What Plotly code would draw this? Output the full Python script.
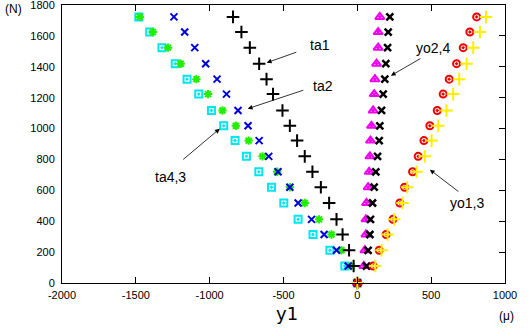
import plotly.graph_objects as go

# Load levels (N)
loads = [0, 110, 212, 314, 412, 518, 620, 720, 820, 922, 1018, 1117, 1223, 1320, 1420, 1524, 1625, 1723]

# Strain values (micro) per gauge, bottom to top
ta1 = [0, -25, -56, -100, -141, -191, -247, -304, -356, -408, -457, -507, -571, -615, -665, -728, -785, -842]
ta2 = [0, -62, -141, -225, -310, -401, -457, -537, -600, -665, -740, -808, -886, -950, -1027, -1101, -1169, -1242]
ta3 = [0, -40, -107, -175, -259, -356, -457, -543, -642, -736, -823, -913, -1011, -1090, -1196, -1282, -1384, -1474]
ta4 = [0, -85, -186, -300, -401, -498, -581, -667, -751, -828, -905, -988, -1074, -1153, -1233, -1323, -1406, -1480]
yo2 = [0, 44, 51, 58, 58, 62, 73, 80, 85, 89, 96, 107, 114, 119, 130, 141, 141, 152]
yo4 = [0, 62, 73, 85, 89, 103, 114, 125, 137, 148, 152, 164, 175, 186, 193, 205, 209, 220]
yo1 = [0, 107, 148, 195, 241, 288, 320, 374, 412, 451, 491, 541, 581, 622, 672, 717, 762, 808]
yo3 = [0, 122, 164, 205, 250, 306, 338, 401, 457, 503, 548, 604, 649, 690, 740, 785, 830, 871]

series = [
    ("ta4", ta4, "#00e5ee", "square-open-dot", 7, 2),
    ("ta3", ta3, "#22ee00", "asterisk-open", 7, 2),
    ("ta2", ta2, "#0000dd", "x-thin-open", 7, 2),
    ("ta1", ta1, "#000000", "cross-thin-open", 9, 2),
    ("yo2", yo2, "#ee00ee", "triangle-up-open-dot", 8, 2),
    ("yo4", yo4, "#000000", "x-thin-open", 7, 2.5),
    ("yo1", yo1, "#ee0000", "circle-open-dot", 7, 2),
    ("yo3", yo3, "#ffee00", "cross-thin-open", 9, 2),
]

fig = go.Figure()
for name, xs, col, sym, sz, lw in series:
    fig.add_trace(go.Scatter(
        x=xs, y=loads, mode="markers", name=name,
        marker=dict(symbol=sym, color=col, size=sz, line=dict(width=lw, color=col)),
        cliponaxis=False, showlegend=False,
    ))
# dummy trace for right axis ticks
fig.add_trace(go.Scatter(x=[None], y=[None], yaxis="y2", showlegend=False))

tickfont = dict(family="Liberation Sans", size=11, color="black")
xt = [-2000, -1500, -1000, -500, 0, 500, 1000]
yt = list(range(0, 1801, 200))

fig.update_layout(
    width=532, height=329,
    margin=dict(l=62, r=27, t=5, b=46, autoexpand=False),
    plot_bgcolor="white", paper_bgcolor="white",
    xaxis=dict(range=[-2000, 1000], tickvals=xt, ticktext=[str(v) for v in xt],
               ticks="inside", ticklen=6, tickcolor="black", mirror="ticks",
               showline=True, linecolor="black", linewidth=1, showgrid=False,
               zeroline=False, tickfont=tickfont, ticklabeloverflow="allow",
               ticklabelstandoff=2, automargin=False),
    yaxis=dict(range=[0, 1800], tickvals=yt, ticktext=[str(v) for v in yt],
               ticks="", showline=True, linecolor="black", linewidth=1, mirror=True,
               showgrid=False, zeroline=False, tickfont=tickfont, ticklabelstandoff=4,
               ticklabeloverflow="allow", automargin=False),
    yaxis2=dict(range=[0, 1800], overlaying="y", side="right", tickvals=yt,
                ticks="inside", ticklen=6, tickcolor="black", showticklabels=False,
                showgrid=False, zeroline=False, showline=False, automargin=False),
)

def px2x(p):
    return (p - 357.5) / 0.14757

def px2y(p):
    return (283.3 - p) / 0.15444

labels = [
    ("ta1", 320, 45, (298, 52), (267, 63)),
    ("ta2", 323, 86, (305, 90), (248, 109)),
    ("ta4,3", 171, 177, (182, 161), (220, 129)),
    ("yo2,4", 433, 48, (422, 58), (391, 76)),
    ("yo1,3", 467, 203, (460, 193), (430, 170)),
]
annfont = dict(family="Liberation Sans", size=14, color="black")
for txt, tx, ty, tail, tip in labels:
    fig.add_annotation(x=px2x(tx), y=px2y(ty), text=txt, showarrow=False, font=annfont,
                       xanchor="center", yanchor="middle")
    fig.add_annotation(x=px2x(tip[0]), y=px2y(tip[1]), ax=px2x(tail[0]), ay=px2y(tail[1]),
                       axref="x", ayref="y", text="", showarrow=True,
                       arrowhead=2, arrowsize=1.2, arrowwidth=0.8, arrowcolor="black", standoff=0)

def pxp(px, py):
    return (px - 62) / 443, (283 - py) / 278

for txt, px, py, fnt in [("y1", 287, 313, dict(family="DejaVu Sans", size=18, color="black")),
                         ("(N)", 13, 9, dict(family="Liberation Sans", size=12, color="black")),
                         ("(μ)", 506, 316, dict(family="Liberation Sans", size=12, color="black"))]:
    xp, yp = pxp(px, py)
    fig.add_annotation(x=xp, y=yp, xref="paper", yref="paper", text=txt,
                       showarrow=False, font=fnt, xanchor="center", yanchor="middle")

fig.write_html("out.html")
